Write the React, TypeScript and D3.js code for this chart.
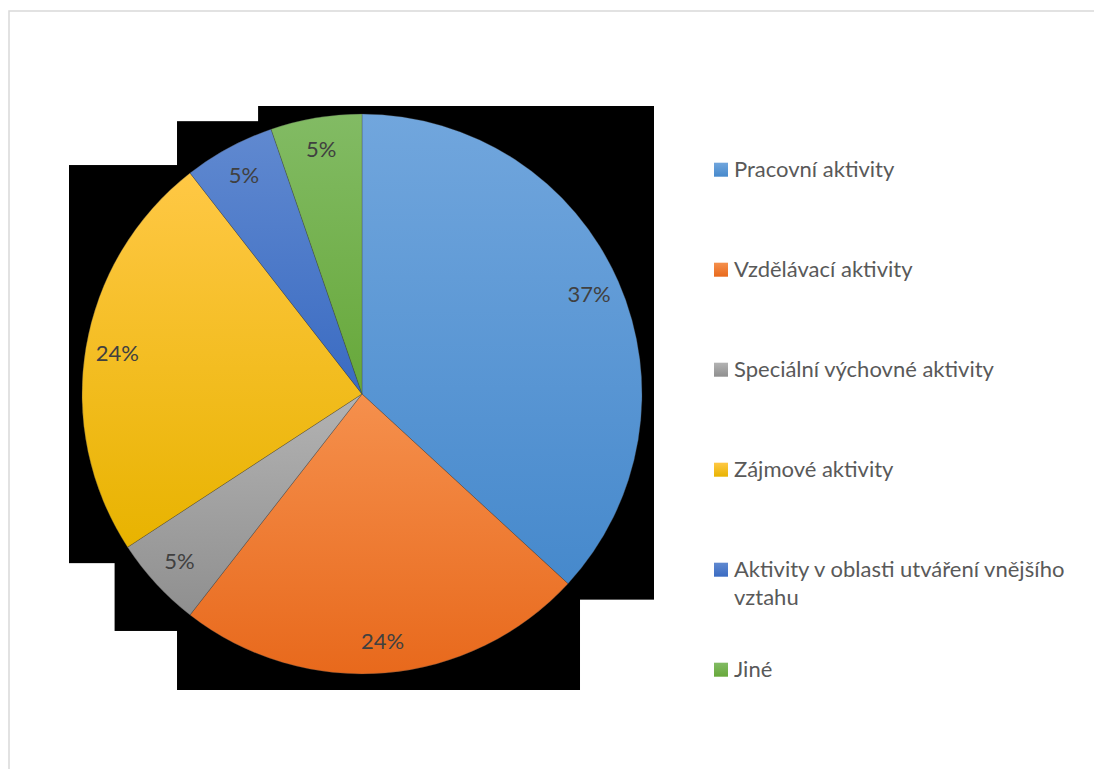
import React, { useRef, useEffect } from "react";
import * as d3 from "d3";

// counts behind the percentages
const categories: string[] = [
  "Pracovní aktivity",
  "Vzdělávací aktivity",
  "Speciální výchovné aktivity",
  "Zájmové aktivity",
  "Aktivity v oblasti utváření vnějšího vztahu",
  "Jiné",
];
const values: number[] = [14, 9, 2, 9, 2, 2];
const topColors: string[] = ["#71a6dd", "#f5904d", "#b3b3b3", "#ffc845", "#6089d0", "#82bb64"];
const bottomColors: string[] = ["#4689cc", "#e8691c", "#8f8f8f", "#e8b300", "#3a6bc2", "#67a83a"];

const FONT = "Lato, 'Open Sans', sans-serif";

const App = () => {
  const canvas = useRef<HTMLDivElement>(null);

  const width = 1094;
  const height = 769;
  const cx = 362;
  const cy = 394;
  const radius = 280;

  useEffect(() => {
    const root = d3.select(canvas.current);
    root.selectAll("*").remove();

    const svg = root
      .append("svg")
      .attr("width", width)
      .attr("height", height)
      .style("position", "absolute")
      .style("left", "0px")
      .style("top", "0px")
      .style("background", "#fff");

    const defs = svg.append("defs");
    categories.forEach((c, i) => {
      const grad = defs
        .append("linearGradient")
        .attr("id", "grad" + i)
        .attr("x1", 0)
        .attr("y1", 0)
        .attr("x2", 0)
        .attr("y2", 1);
      grad.append("stop").attr("offset", "0%").attr("stop-color", topColors[i]);
      grad.append("stop").attr("offset", "100%").attr("stop-color", bottomColors[i]);
    });

    // chart border
    svg
      .append("rect")
      .attr("x", 9)
      .attr("y", 11)
      .attr("width", width + 20)
      .attr("height", height + 20)
      .attr("fill", "none")
      .attr("stroke", "#d9d9d9")
      .attr("stroke-width", 1.5);

    const pie = d3
      .pie<number>()
      .sort(null)
      .value((d) => d);
    const arcs = pie(values);

    const arc = d3.arc<d3.PieArcDatum<number>>().innerRadius(0).outerRadius(radius);
    const labelArc = d3.arc<d3.PieArcDatum<number>>().innerRadius(248).outerRadius(248);

    const g = svg.append("g").attr("transform", "translate(" + cx + "," + cy + ")");

    // black boxes behind each slice (the broken shadow in the original)
    const bbox = (a: d3.PieArcDatum<number>) => {
      const pts: number[][] = [[0, 0]];
      const pt = (t: number) => [radius * Math.sin(t), -radius * Math.cos(t)];
      pts.push(pt(a.startAngle));
      pts.push(pt(a.endAngle));
      for (let k = 0; k <= 4; k++) {
        const t = (k * Math.PI) / 2;
        if (t > a.startAngle && t < a.endAngle) pts.push(pt(t));
      }
      const xs = pts.map((p) => p[0]);
      const ys = pts.map((p) => p[1]);
      return {
        x0: (d3.min(xs) as number) - 13,
        x1: (d3.max(xs) as number) + 12,
        y0: (d3.min(ys) as number) - 8,
        y1: (d3.max(ys) as number) + 16,
      };
    };

    g.selectAll("rect.shadow")
      .data(arcs)
      .enter()
      .append("rect")
      .attr("class", "shadow")
      .attr("x", (d) => bbox(d).x0)
      .attr("y", (d) => bbox(d).y0)
      .attr("width", (d) => bbox(d).x1 - bbox(d).x0)
      .attr("height", (d) => bbox(d).y1 - bbox(d).y0)
      .attr("fill", "#000");

    g.selectAll("path.slice")
      .data(arcs)
      .enter()
      .append("path")
      .attr("class", "slice")
      .attr("d", arc)
      .attr("fill", (d, i) => "url(#grad" + i + ")")
      .attr("stroke", "rgba(70,70,70,0.5)")
      .attr("stroke-width", 0.6);

    g.selectAll("text.label")
      .data(arcs)
      .enter()
      .append("text")
      .attr("class", "label")
      .attr("x", (d) => labelArc.centroid(d)[0])
      .attr("y", (d) => labelArc.centroid(d)[1] + 7.5)
      .attr("text-anchor", "middle")
      .attr("font-family", FONT)
      .attr("font-size", 22)
      .attr("fill", "#404040")
      .text((d) => Math.round((d.data / d3.sum(values)) * 100) + "%");

    // legend
    const legendY = d3
      .scaleLinear()
      .domain([0, categories.length - 1])
      .range([169.7, 669.7]);
    const legend = svg.append("g");
    const maxW = 345;
    categories.forEach((c, i) => {
      const y = legendY(i);
      legend
        .append("rect")
        .attr("x", 714)
        .attr("y", y - 7)
        .attr("width", 14)
        .attr("height", 14)
        .attr("fill", "url(#grad" + i + ")");
      const text = legend
        .append("text")
        .attr("x", 734)
        .attr("y", y + 7)
        .attr("font-family", FONT)
        .attr("font-size", 22)
        .attr("fill", "#595959");
      // simple word wrap
      const words = c.split(" ");
      let line: string[] = [];
      let lineNo = 0;
      let tspan = text.append("tspan").attr("x", 734).attr("dy", 0);
      words.forEach((w) => {
        line.push(w);
        tspan.text(line.join(" "));
        const node = tspan.node() as SVGTSpanElement;
        if (node.getComputedTextLength() > maxW && line.length > 1) {
          line.pop();
          tspan.text(line.join(" "));
          line = [w];
          lineNo++;
          tspan = text.append("tspan").attr("x", 734).attr("dy", 28.5).text(w);
        }
      });
    });
  });

  return <div ref={canvas}></div>;
};

export default App;
